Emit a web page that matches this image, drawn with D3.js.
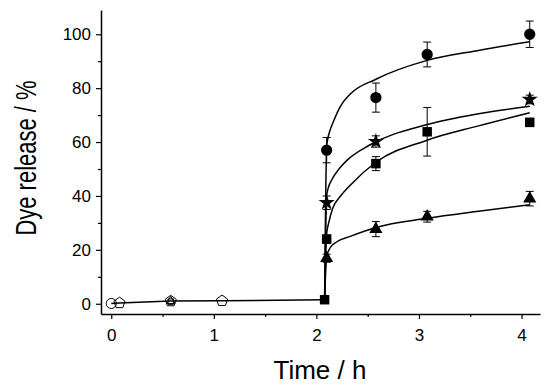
<!DOCTYPE html>
<html>
<head>
<meta charset="utf-8">
<script src="https://cdn.jsdelivr.net/npm/d3@7"></script>
<style>
body { margin: 0; background: #fff; }
text { font-family: Arial, "Liberation Sans", sans-serif; fill: #000; }
</style>
</head>
<body>
<div id="chart"></div>
<script>
// Measured points (time / h, dye release / %)
var circleTime = [2.1, 2.58, 3.08, 4.08];
var circleRelease = [57, 76.5, 92.5, 100];
var circleErr = [4.7, 5.4, 4.6, 4.9];

var starTime = [2.1, 2.58, 4.08];
var starRelease = [37.5, 60.2, 75.8];
var starErr = [2.5, 2.1, 1.6];

var squareTime = [2.1, 2.58, 3.08, 4.08];
var squareRelease = [24, 52, 63.8, 67.3];
var squareErr = [1.5, 2.6, 9, 1.5];

var triangleTime = [2.1, 2.58, 3.08, 4.08];
var triangleRelease = [16.9, 27.7, 32.3, 39];
var triangleErr = [1.5, 2.8, 2, 2.7];

// first stage, open symbols
var earlyTime = [0, 0.08, 0.58, 1.08];
var earlyRelease = [0.1, 0.3, 1.0, 1.1];
var earlySymbol = ["circle", "pentagon", "pentagon", "pentagon"];

// open symbols hidden under the pentagon at 0.58 h
var overlapTime = [0.58, 0.58];
var overlapRelease = [1.0, 0.8];
var overlapSymbol = ["triangle", "square"];

// common point where the second stage starts
var startTime = [2.08];
var startRelease = [1.5];

// fitted curves
var circleFitTime = [2.08, 2.1, 2.11, 2.13, 2.17, 2.23, 2.33, 2.58, 3.08, 3.58, 4.08];
var circleFitRelease = [1.5, 58, 61, 64, 68, 73, 77.8, 83.3, 90.3, 94, 97.2];

var starFitTime = [2.08, 2.1, 2.12, 2.15, 2.22, 2.3, 2.52, 3.08, 3.58, 4.08];
var starFitRelease = [1.5, 40, 43.5, 46, 50, 53.3, 58.9, 66.5, 70.5, 73.3];

var squareFitTime = [2.08, 2.1, 2.12, 2.16, 2.23, 2.33, 2.58, 3.08, 3.58, 4.08];
var squareFitRelease = [1.5, 26, 30, 35.5, 39.7, 44, 52.5, 60.7, 66, 70.9];

var triangleFitTime = [2.08, 2.1, 2.13, 2.2, 2.33, 2.58, 3.08, 3.58, 4.08];
var triangleFitRelease = [1.5, 17.5, 20.5, 23, 25, 28.3, 31.7, 34.3, 36.7];

// tick labels
var xTicks = [0, 1, 2, 3, 4];
var xMinor = [0.5, 1.5, 2.5, 3.5];
var yTicks = [0, 20, 40, 60, 80, 100];
var yMinor = [10, 30, 50, 70, 90];

// SVG area
var svgWidth = 550;
var svgHeight = 391;

var svg = d3.select("#chart")
  .append("svg")
  .attr("width", svgWidth)
  .attr("height", svgHeight);

// scales
var xScale = d3.scaleLinear()
    .domain([-0.1, 4.18])
    .range([101, 540]);

var yScale = d3.scaleLinear()
    .domain([-3.8, 109])
    .range([314, 10]);

// axes
var bottomAxis = d3.axisBottom(xScale).tickValues(xTicks).tickFormat(d3.format("d"))
    .tickSize(5).tickPadding(10).tickSizeOuter(0);
var leftAxis = d3.axisLeft(yScale).tickValues(yTicks).tickFormat(d3.format("d"))
    .tickSize(5).tickPadding(5).tickSizeOuter(0);

svg.append("g")
    .attr("transform", "translate(0, 314)")
    .call(bottomAxis);

svg.append("g")
    .attr("transform", "translate(0, 314)")
    .call(d3.axisBottom(xScale).tickValues(xMinor).tickSize(3).tickFormat("").tickSizeOuter(0))
    .select(".domain").remove();

svg.append("g")
    .attr("transform", "translate(101, 0)")
    .call(leftAxis);

svg.append("g")
    .attr("transform", "translate(101, 0)")
    .call(d3.axisLeft(yScale).tickValues(yMinor).tickSize(3).tickFormat("").tickSizeOuter(0))
    .select(".domain").remove();

svg.selectAll(".domain").attr("stroke", "#000").attr("stroke-width", 1.5);
svg.selectAll(".tick line").attr("stroke", "#000").attr("stroke-width", 1.2);
svg.selectAll(".tick text").attr("font-size", 17).attr("font-family", "Arial, 'Liberation Sans', sans-serif");

// axis titles (the y title is drawn taller across its baseline, as in the figure)
svg.append("text")
    .attr("transform", "translate(36, 158) rotate(-90) scale(1, 1.3)")
    .attr("text-anchor", "middle")
    .attr("font-size", 22)
    .text("Dye release / %");

svg.append("text")
    .attr("x", 320)
    .attr("y", 379)
    .attr("text-anchor", "middle")
    .attr("font-size", 26)
    .text("Time / h");

// lines
var fitLine = d3.line()
    .x(d => xScale(d[0]))
    .y(d => yScale(d[1]))
    .curve(d3.curveMonotoneX);

function pairs(t, v) {
    return t.map((d, i) => [d, v[i]]);
}

var lineGroup = svg.append("g")
    .attr("fill", "none")
    .attr("stroke", "#000")
    .attr("stroke-width", 1.5);

lineGroup.append("path")
    .attr("d", d3.line().x(d => xScale(d[0])).y(d => yScale(d[1]))(pairs(earlyTime.concat(startTime), earlyRelease.concat(startRelease))));

[[circleFitTime, circleFitRelease],
 [starFitTime, starFitRelease],
 [squareFitTime, squareFitRelease],
 [triangleFitTime, triangleFitRelease]].forEach(function(f) {
    lineGroup.append("path").attr("d", fitLine(pairs(f[0], f[1])));
});

// pentagon symbol for the open markers
var symbolPentagon = {
    draw: function(context, size) {
        var r = Math.sqrt(size / 2.378);
        for (var k = 0; k < 5; k++) {
            var a = -Math.PI / 2 + k * 2 * Math.PI / 5;
            if (k === 0) context.moveTo(r * Math.cos(a), r * Math.sin(a));
            else context.lineTo(r * Math.cos(a), r * Math.sin(a));
        }
        context.closePath();
    }
};

var openTypes = {
    circle: d3.symbolCircle,
    pentagon: symbolPentagon,
    triangle: d3.symbolTriangle,
    square: d3.symbolSquare
};

// error bars
function errorBars(t, v, e) {
    var g = svg.append("g").attr("stroke", "#000").attr("stroke-width", 1);
    t.forEach(function(d, i) {
        var x = xScale(d);
        var y1 = yScale(v[i] + e[i]);
        var y2 = yScale(v[i] - e[i]);
        g.append("line").attr("x1", x).attr("x2", x).attr("y1", y1).attr("y2", y2);
        g.append("line").attr("x1", x - 4).attr("x2", x + 4).attr("y1", y1).attr("y2", y1);
        g.append("line").attr("x1", x - 4).attr("x2", x + 4).attr("y1", y2).attr("y2", y2);
    });
}

errorBars(circleTime, circleRelease, circleErr);
errorBars(starTime, starRelease, starErr);
errorBars(squareTime, squareRelease, squareErr);
errorBars(triangleTime, triangleRelease, triangleErr);

// filled markers
function markers(t, v, type, size) {
    svg.append("g").selectAll("path")
        .data(t)
        .enter()
        .append("path")
        .attr("transform", (d, i) => `translate(${xScale(d)}, ${yScale(v[i])})`)
        .attr("d", d3.symbol().type(type).size(size))
        .attr("fill", "#000");
}

markers(circleTime, circleRelease, d3.symbolCircle, 100);
markers(starTime, starRelease, d3.symbolStar, 80);
markers(squareTime, squareRelease, d3.symbolSquare, 90);
markers(triangleTime, triangleRelease, d3.symbolTriangle, 75);
markers(startTime, startRelease, d3.symbolSquare, 90);

// open markers of the first stage
function openMarkers(t, v, sym, size) {
    svg.append("g").selectAll("path")
        .data(t)
        .enter()
        .append("path")
        .attr("transform", (d, i) => `translate(${xScale(d)}, ${yScale(v[i])})`)
        .attr("d", (d, i) => d3.symbol().type(openTypes[sym[i]]).size(size)())
        .attr("fill", "none")
        .attr("stroke", "#000")
        .attr("stroke-width", 1);
}

openMarkers(earlyTime, earlyRelease, earlySymbol, 80);
openMarkers(overlapTime, overlapRelease, overlapSymbol, 30);
</script>
</body>
</html>
